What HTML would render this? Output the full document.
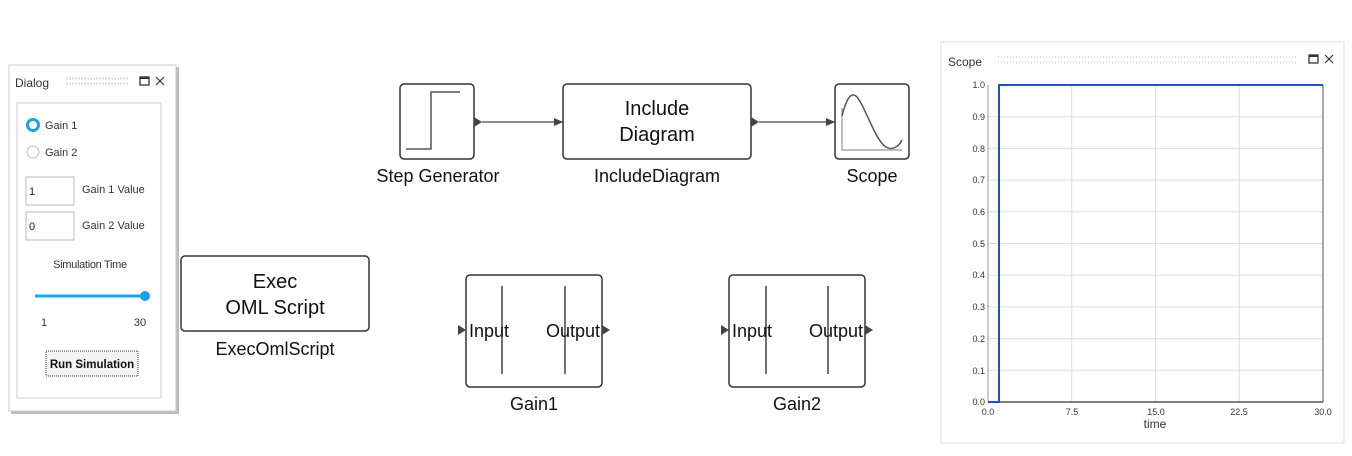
<!DOCTYPE html>
<html><head><meta charset="utf-8"><style>
html,body{margin:0;padding:0;background:#fff;}
svg{display:block;font-family:"Liberation Sans",sans-serif;}
</style></head><body>
<svg width="1352" height="456" viewBox="0 0 1352 456" xmlns="http://www.w3.org/2000/svg">
<defs>
<marker id="ar" markerWidth="10" markerHeight="10" refX="9" refY="5" orient="auto" markerUnits="userSpaceOnUse"><path d="M0,1 L9,5 L0,9 z" fill="#444"/></marker>
</defs>
<!-- Dialog window -->
<rect x="11" y="67" width="168" height="347" fill="#bbb"/>
<rect x="9" y="65" width="167" height="346" fill="#fff" stroke="#ccc"/>
<text x="15" y="87" font-size="12" fill="#333">Dialog</text>
<g fill="#999">
<rect x="66" y="78" width="62" height="1" fill="none" stroke="#bbb" stroke-dasharray="1,2"/>
<rect x="66" y="83" width="62" height="1" fill="none" stroke="#bbb" stroke-dasharray="1,2"/>
</g>
<rect x="140" y="77" width="9" height="8" fill="none" stroke="#333" stroke-width="1.3"/>
<line x1="140" y1="78" x2="149" y2="78" stroke="#333" stroke-width="2"/>
<path d="M156,77 L164,85 M164,77 L156,85" stroke="#333" stroke-width="1.2"/>
<rect x="17" y="103" width="144" height="295" fill="#fff" stroke="#ccc"/>
<circle cx="33" cy="125" r="5.5" fill="#fff" stroke="#1aa3e8" stroke-width="3"/>
<text x="45" y="129" font-size="11" fill="#333">Gain 1</text>
<circle cx="33" cy="152" r="6" fill="#fff" stroke="#bbb"/>
<text x="45" y="156" font-size="11" fill="#333">Gain 2</text>
<rect x="26" y="177" width="48" height="28" fill="#fff" stroke="#bbb"/>
<text x="29" y="195" font-size="11" fill="#222">1</text>
<text x="82" y="193" font-size="11" fill="#333">Gain 1 Value</text>
<rect x="26" y="212" width="48" height="28" fill="#fff" stroke="#bbb"/>
<text x="29" y="230" font-size="11" fill="#222">0</text>
<text x="82" y="229" font-size="11" fill="#333">Gain 2 Value</text>
<text x="90" y="268" font-size="11" fill="#333" text-anchor="middle" letter-spacing="-0.3">Simulation Time</text>
<line x1="35" y1="296" x2="145" y2="296" stroke="#1aa3e8" stroke-width="3"/>
<circle cx="145" cy="296" r="5" fill="#1aa3e8"/>
<text x="44" y="326" font-size="11" fill="#333" text-anchor="middle">1</text>
<text x="140" y="326" font-size="11" fill="#333" text-anchor="middle">30</text>
<rect x="46" y="351" width="92" height="25" fill="#f4f4f4" stroke="#333" stroke-dasharray="1,1"/>
<text x="92" y="368" font-size="11.5" font-weight="bold" fill="#111" text-anchor="middle">Run Simulation</text>

<!-- Exec block -->
<rect x="181" y="256" width="188" height="75" rx="4" fill="#fff" stroke="#333" stroke-width="1.5"/>
<text x="275" y="288" font-size="20" fill="#111" text-anchor="middle">Exec</text>
<text x="275" y="314" font-size="20" fill="#111" text-anchor="middle">OML Script</text>
<text x="275" y="355" font-size="18" fill="#111" text-anchor="middle">ExecOmlScript</text>

<!-- Step generator -->
<rect x="400" y="84" width="74" height="75" rx="4" fill="#fff" stroke="#333" stroke-width="1.5"/>
<path d="M406,149 L431,149 L431,92 L460,92" fill="none" stroke="#555" stroke-width="1.5"/>
<text x="438" y="182" font-size="18" fill="#111" text-anchor="middle">Step Generator</text>
<!-- Include -->
<rect x="563" y="84" width="188" height="75" rx="4" fill="#fff" stroke="#333" stroke-width="1.5"/>
<text x="657" y="115" font-size="20" fill="#111" text-anchor="middle">Include</text>
<text x="657" y="141" font-size="20" fill="#111" text-anchor="middle">Diagram</text>
<text x="657" y="182" font-size="18" fill="#111" text-anchor="middle">IncludeDiagram</text>
<!-- Scope block -->
<rect x="835" y="84" width="74" height="75" rx="4" fill="#fff" stroke="#333" stroke-width="1.5"/>
<path d="M842,108 L842,150 L902,150" fill="none" stroke="#aaa" stroke-width="1.5"/>
<path d="M842,116 C846,100 850,94 854,95 C862,96 874,140 886,147 C893,151 899,146 902,140" fill="none" stroke="#555" stroke-width="1.5"/>
<text x="872" y="182" font-size="18" fill="#111" text-anchor="middle">Scope</text>
<!-- connectors -->
<path d="M474,117 L482,122 L474,127 z" fill="#444"/>
<line x1="482" y1="122" x2="563" y2="122" stroke="#444" stroke-width="1.2" marker-end="url(#ar)"/>
<path d="M751,117 L759,122 L751,127 z" fill="#444"/>
<line x1="759" y1="122" x2="835" y2="122" stroke="#444" stroke-width="1.2" marker-end="url(#ar)"/>

<!-- Gain1 -->
<rect x="466" y="275" width="136" height="112" rx="4" fill="#fff" stroke="#333" stroke-width="1.5"/>
<line x1="502" y1="286" x2="502" y2="374" stroke="#444" stroke-width="1.5"/>
<line x1="565" y1="286" x2="565" y2="374" stroke="#444" stroke-width="1.5"/>
<text x="469" y="337" font-size="18" fill="#111">Input</text>
<text x="600" y="337" font-size="18" fill="#111" text-anchor="end">Output</text>
<path d="M458,325 L466,330 L458,335 z" fill="#444"/>
<path d="M602,325 L610,330 L602,335 z" fill="#444"/>
<text x="534" y="410" font-size="18" fill="#111" text-anchor="middle">Gain1</text>
<!-- Gain2 -->
<rect x="729" y="275" width="136" height="112" rx="4" fill="#fff" stroke="#333" stroke-width="1.5"/>
<line x1="766" y1="286" x2="766" y2="374" stroke="#444" stroke-width="1.5"/>
<line x1="828" y1="286" x2="828" y2="374" stroke="#444" stroke-width="1.5"/>
<text x="732" y="337" font-size="18" fill="#111">Input</text>
<text x="863" y="337" font-size="18" fill="#111" text-anchor="end">Output</text>
<path d="M721,325 L729,330 L721,335 z" fill="#444"/>
<path d="M865,325 L873,330 L865,335 z" fill="#444"/>
<text x="797" y="410" font-size="18" fill="#111" text-anchor="middle">Gain2</text>

<!-- Scope window -->
<rect x="941" y="42" width="403" height="401" fill="#fff" stroke="#ddd"/>
<text x="948" y="66" font-size="12" fill="#333">Scope</text>
<line x1="998" y1="57" x2="1297" y2="57" stroke="#bbb" stroke-dasharray="1,2"/>
<line x1="998" y1="62" x2="1297" y2="62" stroke="#bbb" stroke-dasharray="1,2"/>
<rect x="1309" y="55" width="9" height="8" fill="none" stroke="#333" stroke-width="1.3"/>
<line x1="1309" y1="56" x2="1318" y2="56" stroke="#333" stroke-width="2"/>
<path d="M1325,55 L1333,63 M1333,55 L1325,63" stroke="#333" stroke-width="1.2"/>
<g stroke="#ddd" stroke-width="1">
<line x1="988" y1="116.7" x2="1322" y2="116.7"/><line x1="988" y1="148.4" x2="1322" y2="148.4"/>
<line x1="988" y1="180.1" x2="1322" y2="180.1"/><line x1="988" y1="211.8" x2="1322" y2="211.8"/>
<line x1="988" y1="243.5" x2="1322" y2="243.5"/><line x1="988" y1="275.2" x2="1322" y2="275.2"/>
<line x1="988" y1="306.9" x2="1322" y2="306.9"/><line x1="988" y1="338.6" x2="1322" y2="338.6"/>
<line x1="988" y1="370.3" x2="1322" y2="370.3"/>
<line x1="1071.75" y1="85" x2="1071.75" y2="402"/><line x1="1155.5" y1="85" x2="1155.5" y2="402"/>
<line x1="1239.25" y1="85" x2="1239.25" y2="402"/>
</g>
<line x1="988" y1="85" x2="988" y2="402" stroke="#999"/>
<line x1="1323" y1="85" x2="1323" y2="402" stroke="#555"/>
<line x1="988" y1="402" x2="1323" y2="402" stroke="#555" stroke-width="1.5"/>
<g font-size="9" fill="#333" text-anchor="end">
<text x="985" y="88">1.0</text><text x="985" y="120">0.9</text><text x="985" y="152">0.8</text>
<text x="985" y="183">0.7</text><text x="985" y="215">0.6</text><text x="985" y="247">0.5</text>
<text x="985" y="278">0.4</text><text x="985" y="310">0.3</text><text x="985" y="342">0.2</text>
<text x="985" y="374">0.1</text><text x="985" y="405">0.0</text>
</g>
<g font-size="9" fill="#333" text-anchor="middle">
<text x="988" y="415">0.0</text><text x="1072" y="415">7.5</text><text x="1156" y="415">15.0</text>
<text x="1239" y="415">22.5</text><text x="1323" y="415">30.0</text>
</g>
<text x="1155" y="428" font-size="12" fill="#333" text-anchor="middle">time</text>
<path d="M988,402 L999,402 L999,85 L1323,85" fill="none" stroke="#2250c8" stroke-width="2"/>
</svg>
</body></html>
